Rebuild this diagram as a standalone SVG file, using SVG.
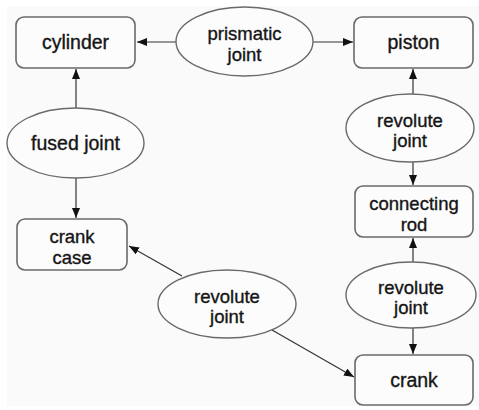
<svg xmlns="http://www.w3.org/2000/svg" width="479" height="410" viewBox="0 0 479 410">
<defs>
<style>
.box{fill:#fcfcfc;stroke:#6a6a6a;stroke-width:1.6}
.ell{fill:#fcfcfc;stroke:#6a6a6a;stroke-width:1.4}
.t{font-family:"Liberation Sans",Arial,sans-serif;font-size:18.5px;fill:#151515;stroke:#151515;stroke-width:0.35;text-anchor:middle}
.s{font-size:19.5px}
.c{stroke:#333333;stroke-width:1.2;fill:none;marker-end:url(#ah)}
</style>
<marker id="ah" viewBox="0 0 10 8" refX="10" refY="4" markerWidth="10" markerHeight="8" markerUnits="userSpaceOnUse" orient="auto">
<path d="M0,0 L10,4 L0,8 Z" fill="#111"/>
</marker>
</defs>
<rect x="0" y="0" width="479" height="410" fill="#ffffff"/>
<rect x="7" y="6" width="472" height="400" fill="#fafafa"/>
<g id="connectors">
<line class="c" x1="176" y1="42" x2="137" y2="42"/>
<line class="c" x1="313" y1="42" x2="353" y2="42"/>
<line class="c" x1="76" y1="108" x2="76" y2="69"/>
<line class="c" x1="76" y1="178" x2="76" y2="218"/>
<line class="c" x1="413" y1="94" x2="413" y2="69"/>
<line class="c" x1="413" y1="162" x2="413" y2="185"/>
<line class="c" x1="413" y1="262" x2="413" y2="238"/>
<line class="c" x1="413" y1="328" x2="413" y2="354"/>
<line class="c" x1="182" y1="276" x2="129" y2="246"/>
<line class="c" x1="272" y1="330" x2="354" y2="377"/>
</g>
<g id="cylinder"><rect class="box" x="16" y="17" width="119" height="51" rx="8"/><text class="t s" x="75.5" y="48.5">cylinder</text></g>
<g id="prismatic-joint"><ellipse class="ell" cx="244.5" cy="41.5" rx="68.5" ry="34.5"/><text class="t" x="244.5" y="40">prismatic<tspan x="244.5" dy="20.8">joint</tspan></text></g>
<g id="piston"><rect class="box" x="354" y="17" width="119" height="51" rx="8"/><text class="t s" x="413.5" y="48.5">piston</text></g>
<g id="fused-joint"><ellipse class="ell" cx="75.5" cy="143" rx="68.5" ry="35"/><text class="t s" x="75.5" y="149.5">fused joint</text></g>
<g id="revolute-joint-1"><ellipse class="ell" cx="410" cy="128" rx="64" ry="34"/><text class="t" x="410" y="126.5">revolute<tspan x="410" dy="20.8">joint</tspan></text></g>
<g id="connecting-rod"><rect class="box" x="355" y="186" width="118" height="51" rx="8"/><text class="t" x="414" y="210">connecting<tspan x="414" dy="20.8">rod</tspan></text></g>
<g id="crank-case"><rect class="box" x="17" y="219" width="110" height="51" rx="8"/><text class="t" x="72" y="243">crank<tspan x="72" dy="20.8">case</tspan></text></g>
<g id="revolute-joint-2"><ellipse class="ell" cx="227" cy="304" rx="69" ry="34"/><text class="t" x="227" y="302.5">revolute<tspan x="227" dy="20.8">joint</tspan></text></g>
<g id="revolute-joint-3"><ellipse class="ell" cx="411" cy="295" rx="65" ry="33"/><text class="t" x="411" y="293.5">revolute<tspan x="411" dy="20.8">joint</tspan></text></g>
<g id="crank"><rect class="box" x="355" y="355" width="118" height="50" rx="8"/><text class="t s" x="414" y="386.5">crank</text></g>
</svg>
